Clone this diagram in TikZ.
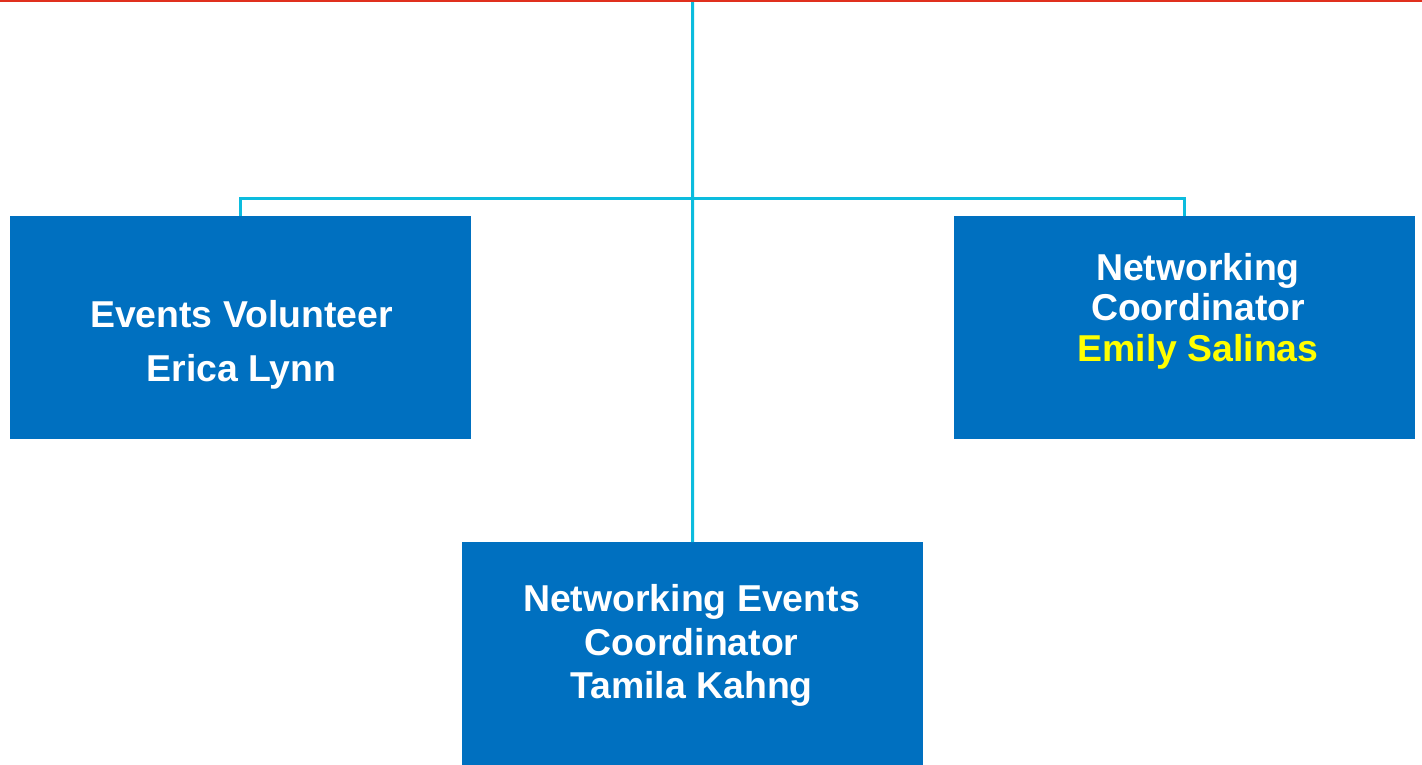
\documentclass[tikz,border=0pt]{standalone}
\usepackage{fontspec}
\setmainfont{Liberation Sans}
\definecolor{boxblue}{HTML}{0070C0}
\definecolor{linecyan}{HTML}{0CBCDE}
\definecolor{topred}{HTML}{E0301E}
\definecolor{nameyellow}{HTML}{FFFF00}
\tikzset{
  orgbox/.style={draw=none, fill=boxblue, minimum width=461pt, minimum height=223pt, inner sep=0pt, anchor=north west},
  conn/.style={draw=linecyan, line width=3pt},
  txt/.style={text=white, font=\fontsize{37.4}{40}\selectfont\bfseries, anchor=base, inner sep=0pt},
  nametxt/.style={txt, text=nameyellow}
}
\begin{document}
\begin{tikzpicture}[x=1pt,y=-1pt]
\useasboundingbox (0,0) rectangle (1422,764);
\fill[white] (0,0) rectangle (1422,764);
% boxes
\node[orgbox] (left) at (10,216) {};
\node[orgbox] (right) at (954,216) {};
\node[orgbox, minimum height=224pt] (bottom) at (462,542) {};
% connectors
\coordinate (top) at (692.5,0);
\coordinate (bar) at (692.5,198);
\draw[conn] (top) -- (bottom.north);
\draw[conn] (left.north) |- (bar) -| (right.north);
% top rule
\fill[topred] (0,0) rectangle (1422,2);
% texts
\node[txt] (l1) at (241.5,327) {Events Volunteer};
\node[txt] (l2) at (241.5,381) {Erica Lynn};
\node[txt] (r1) at (1198,280) {Networking};
\node[txt] (r2) at (1198,320) {Coordinator};
\node[nametxt] (r3) at (1198,361) {Emily Salinas};
\node[txt] (b1) at (691.5,611) {Networking Events};
\node[txt] (b2) at (691.5,655) {Coordinator};
\node[txt] (b3) at (691.5,698) {Tamila Kahng};
\end{tikzpicture}
\end{document}
